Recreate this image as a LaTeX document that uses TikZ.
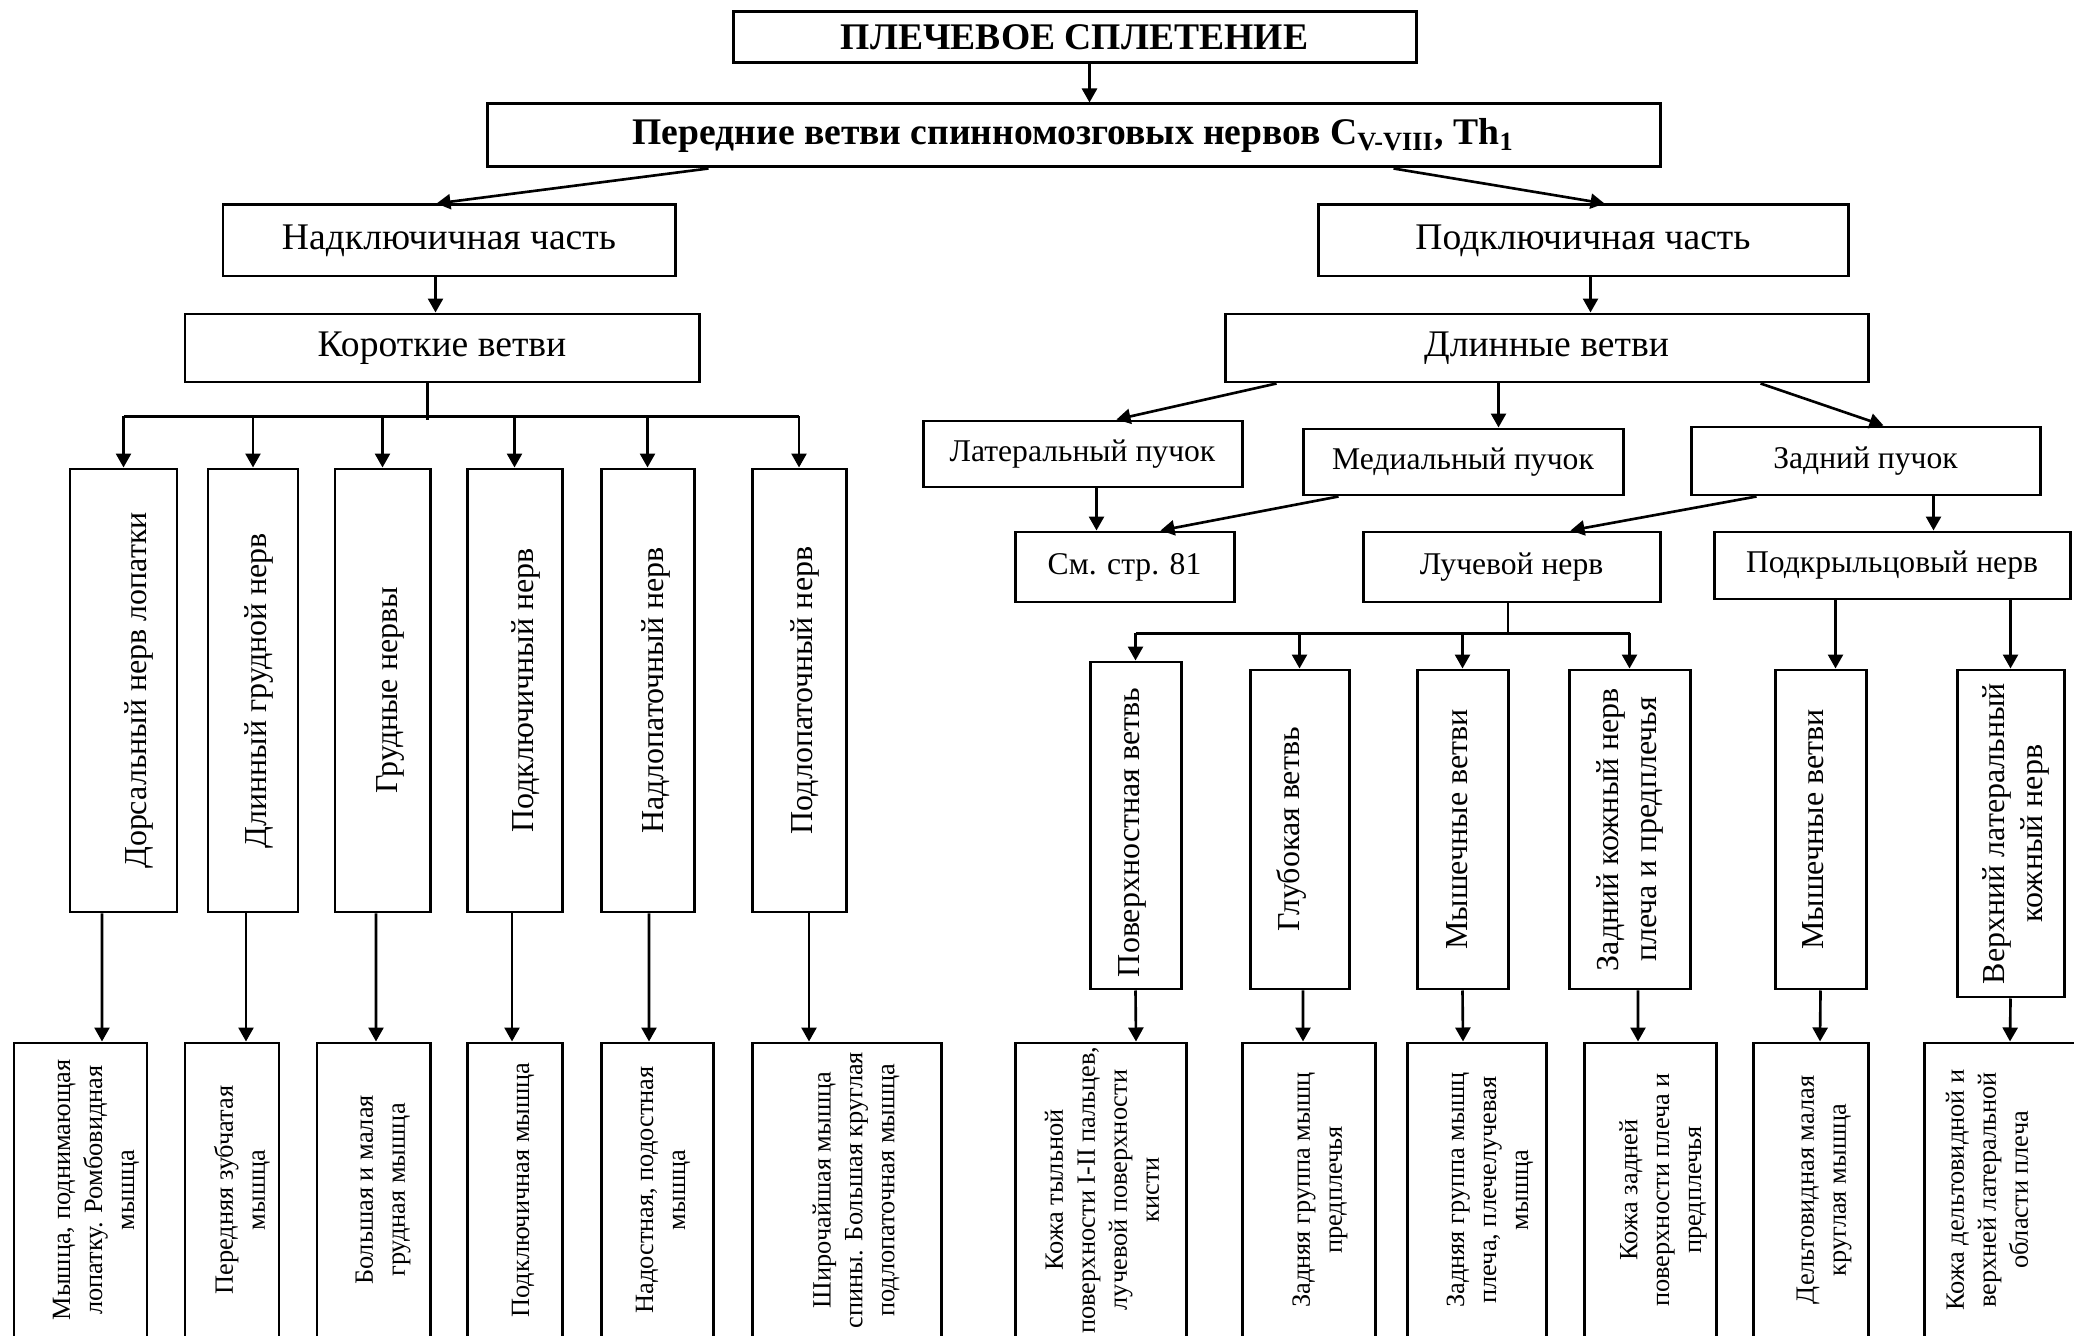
\documentclass[tikz,border=0pt]{standalone}
\usepackage{fontspec}
\setmainfont{Liberation Serif}
\usetikzlibrary{arrows.meta,calc,fit}

\begin{document}
\begin{tikzpicture}[x=0.1mm,y=-0.1mm,
  box/.style={draw,line width=0.85pt,inner sep=0pt},
  arr/.style={line width=0.75pt,-{Triangle[length=1.4mm,width=1.5mm]}},
  bus/.style={line width=0.75pt},
  fbig/.style={font=\fontsize{10.7}{12.8}\selectfont},
  fbold/.style={font=\fontsize{10.7}{12.8}\selectfont\bfseries},
  fmid/.style={font=\fontsize{9}{10.8}\selectfont},
  vtxt/.style={rotate=90,align=center,inner sep=0pt,font=\fontsize{9.1}{10.8}\selectfont},
  stxt/.style={rotate=90,align=center,inner sep=0pt,font=\fontsize{7.5}{9.1}\selectfont},
]
\fill[white] (0,0) rectangle (2074,1336);
\useasboundingbox (0,0) rectangle (2074,1336);
\clip (0,0) rectangle (2074,1336);

% --- upper levels ---
\node[box,fit={(733,12) (1416,63)},label={[fbold]center:ПЛЕЧЕВОЕ СПЛЕТЕНИЕ}] (title) {};
\node[box,fit={(487,104) (1660,167)},
  label={[fbold]center:Передние ветви спинномозговых нервов C\textsubscript{V-VIII}, Th\textsubscript{1}}] (roots) {};
\node[box,fit={(223,205) (675,276)},label={[fbig]center:Надключичная часть}] (supra) {};
\node[box,fit={(1318,205) (1848,276)},label={[fbig]center:Подключичная часть}] (infra) {};
\node[box,fit={(185,314) (699,382)},label={[fbig]center:Короткие ветви}] (short) {};
\node[box,fit={(1225,314) (1868,382)},label={[fbig]center:Длинные ветви}] (long) {};

% --- cords and their nerves ---
\node[box,fit={(923,421) (1242,487)},label={[fmid]center:Латеральный пучок}] (lat) {};
\node[box,fit={(1303,429) (1623,495)},label={[fmid]center:Медиальный пучок}] (med) {};
\node[box,fit={(1691,427) (2040,495)},label={[fmid]center:Задний пучок}] (post) {};
\node[box,fit={(1015,532) (1234,602)},label={[fmid]center:См. стр. 81}] (see) {};
\node[box,fit={(1363,532) (1660,602)},label={[fmid]center:Лучевой нерв}] (radial) {};
\node[box,fit={(1714,532) (2070,599)},label={[fmid]center:Подкрыльцовый нерв}] (axill) {};

% --- short branches ---
\node[box,fit={(70,469) (177,912)}] (s1) {};
\node[box,fit={(208,469) (298,912)}] (s2) {};
\node[box,fit={(335,469) (430,912)}] (s3) {};
\node[box,fit={(467,469) (562,912)}] (s4) {};
\node[box,fit={(601,469) (694,912)}] (s5) {};
\node[box,fit={(752,469) (846,912)}] (s6) {};
\node[vtxt] (s1t) at ($(s1.center)+(15,0)$) {Дорсальный нерв лопатки};
\node[vtxt] (s2t) at ($(s2.center)+(6,0)$) {Длинный грудной нерв};
\node[vtxt] (s3t) at ($(s3.center)+(8,0)$) {Грудные нервы};
\node[vtxt] (s4t) at ($(s4.center)+(11,0)$) {Подключичный нерв};
\node[vtxt] (s5t) at ($(s5.center)+(8,0)$) {Надлопаточный нерв};
\node[vtxt] (s6t) at ($(s6.center)+(6,0)$) {Подлопаточный нерв};

% --- muscles of the short branches ---
\node[box,fit={(14,1043) (147,1360)}] (t1) {};
\node[box,fit={(185,1043) (279,1360)}] (t2) {};
\node[box,fit={(317,1043) (430,1360)}] (t3) {};
\node[box,fit={(467,1043) (562,1360)}] (t4) {};
\node[box,fit={(601,1043) (713,1360)}] (t5) {};
\node[box,fit={(752,1043) (941,1360)}] (t6) {};
\node[stxt] (t1t) at ($(t1.center)+(15.5,-11.5)$) {Мышца, поднимающая\\лопатку. Ромбовидная\\мышца};
\node[stxt] (t2t) at ($(t2.center)+(10,-11.5)$) {Передняя зубчатая\\мышца};
\node[stxt] (t3t) at ($(t3.center)+(9.5,-11.5)$) {Большая и малая\\грудная мышца};
\node[stxt] (t4t) at ($(t4.center)+(8.5,-11.5)$) {Подключичная мышца};
\node[stxt] (t5t) at ($(t5.center)+(6,-11.5)$) {Надостная, подостная\\мышца};
\node[stxt] (t6t) at ($(t6.center)+(9.5,-11.5)$) {Широчайшая мышца\\спины. Большая круглая\\подлопаточная мышца};

% --- branches of the radial and axillary nerves ---
\node[box,fit={(1090,662) (1181,989)}] (c1) {};
\node[box,fit={(1250,670) (1349,989)}] (c2) {};
\node[box,fit={(1417,670) (1508,989)}] (c3) {};
\node[box,fit={(1569,670) (1690,989)}] (c4) {};
\node[box,fit={(1775,670) (1866,989)}] (c5) {};
\node[box,fit={(1957,670) (2064,997)}] (c6) {};
\node[vtxt] (c1t) at ($(c1.center)+(-3,7)$) {Поверхностная ветвь};
\node[vtxt] (c2t) at ($(c2.center)+(-8,0)$) {Глубокая ветвь};
\node[vtxt] (c3t) at ($(c3.center)+(-5,0)$) {Мышечные ветви};
\node[vtxt] (c4t) at ($(c4.center)+(0,0)$) {Задний кожный нерв\\плеча и предплечья};
\node[vtxt] (c5t) at ($(c5.center)+(-7,0)$) {Мышечные ветви};
\node[vtxt] (c6t) at ($(c6.center)+(5,0)$) {Верхний латеральный\\кожный нерв};

% --- innervated regions ---
\node[box,fit={(1015,1043) (1186,1360)}] (d1) {};
\node[box,fit={(1242,1043) (1375,1360)}] (d2) {};
\node[box,fit={(1407,1043) (1546,1360)}] (d3) {};
\node[box,fit={(1584,1043) (1716,1360)}] (d4) {};
\node[box,fit={(1753,1043) (1868,1360)}] (d5) {};
\node[box,fit={(1924,1043) (2090,1360)}] (d6) {};
\node[stxt] (d1t) at ($(d1.center)+(1.5,-11.5)$) {Кожа тыльной\\поверхности I-II пальцев,\\лучевой поверхности\\кисти};
\node[stxt] (d2t) at ($(d2.center)+(11.5,-11.5)$) {Задняя группа мышц\\предплечья};
\node[stxt] (d3t) at ($(d3.center)+(13.5,-11.5)$) {Задняя группа мышц\\плеча, плечелучевая\\мышца};
\node[stxt] (d4t) at ($(d4.center)+(13,-11.5)$) {Кожа задней\\поверхности плеча и\\предплечья};
\node[stxt] (d5t) at ($(d5.center)+(13.5,-11.5)$) {Дельтовидная малая\\круглая мышца};
\node[stxt] (d6t) at ($(d6.center)+(-20,-11.5)$) {Кожа дельтовидной и\\верхней латеральной\\области плеча};

% --- connectors: upper levels ---
\draw[arr] ($(title.south)+(15,0)$) -- ($(roots.north)+(16,0)$);
\draw[arr] ($(roots.south west)+(223,0)$) -- ($(supra.north west)+(215,0)$);
\draw[arr] ($(roots.south west)+(908,0)$) -- ($(infra.north west)+(288,0)$);
\draw[arr] ($(supra.south west)+(214,0)$) -- ($(short.north west)+(252,0)$);
\draw[arr] ($(infra.south west)+(274,0)$) -- ($(long.north west)+(367,0)$);

% --- connectors: short branches ---
\path ($(short.south west)+(244,33)$) coordinate (sbus);
\draw[bus] ($(short.south west)+(244,0)$) -- ++(0,37);
\draw[bus] (sbus -| s1.north) -- (sbus -| s6.north);
\foreach \i in {1,...,6}{
  \draw[arr] (sbus -| s\i.north) -- (s\i.north);
}
\draw[arr] ($(s1.south)+(-21.5,0)$) -- ($(t1.north)+(21.5,0)$);
\draw[arr] ($(s2.south)+(-7,0)$) -- ($(t2.north)+(14,0)$);
\draw[arr] ($(s3.south)+(-6.5,0)$) -- ($(t3.north)+(2.5,0)$);
\draw[arr] ($(s4.south)+(-2.5,0)$) -- ($(t4.north)+(-2.5,0)$);
\draw[arr] ($(s5.south)+(1.5,0)$) -- ($(t5.north)+(-8,0)$);
\draw[arr] ($(s6.south)+(10,0)$) -- ($(t6.north)+(-37.5,0)$);

% --- connectors: long branches ---
\draw[arr] ($(long.south west)+(53,0)$) -- ($(lat.north west)+(195,0)$);
\draw[arr] ($(long.south west)+(275,0)$) -- ($(med.north west)+(197,0)$);
\draw[arr] ($(long.south west)+(537,0)$) -- ($(post.north west)+(194,0)$);
\draw[arr] ($(lat.south west)+(175,0)$) -- ($(see.north west)+(83,0)$);
\draw[arr] ($(med.south west)+(37,0)$) -- ($(see.north west)+(147,0)$);
\draw[arr] ($(post.south west)+(67,0)$) -- ($(radial.north west)+(209,0)$);
\draw[arr] ($(post.south west)+(244,0)$) -- ($(axill.north west)+(221,0)$);

% --- connectors: radial nerve ---
\path ($(radial.south)+(-3.5,30)$) coordinate (rbus);
\draw[bus] ($(radial.south)+(-3.5,0)$) -- (rbus);
\draw[bus] (rbus -| c1.north) -- (rbus -| c4.north);
\foreach \i in {1,...,4}{
  \draw[arr] (rbus -| c\i.north) -- (c\i.north);
}

% --- connectors: axillary nerve ---
\path ($(c5.north)+(15,0)$) coordinate (c5in);
\draw[arr] (axill.south -| c5in) -- (c5in);
\draw[arr] (axill.south -| c6.north) -- (c6.north);

% --- connectors: to innervated regions ---
\draw[arr] (c1.south) -- ($(d1.north)+(35.5,0)$);
\draw[arr] ($(c2.south)+(3.5,0)$) -- ($(d2.north)+(-5.5,0)$);
\draw[arr] (c3.south) -- ($(d3.north)+(-13.5,0)$);
\draw[arr] ($(c4.south)+(8.5,0)$) -- ($(d4.north)+(-12,0)$);
\draw[arr] (c5.south) -- ($(d5.north)+(9.5,0)$);
\draw[arr] (c6.south) -- ($(d6.north)+(3,0)$);
\end{tikzpicture}
\end{document}
